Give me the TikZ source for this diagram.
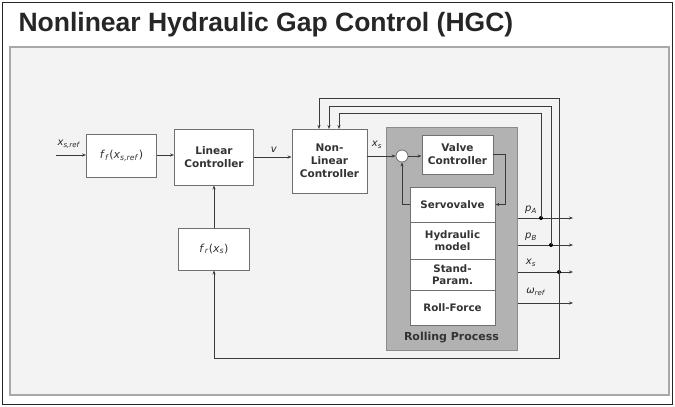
\documentclass[tikz,border=0pt]{standalone}
\usepackage{fontspec}
\setmainfont{DejaVu Sans}
\newfontfamily\titlefont{Liberation Sans}
\usetikzlibrary{arrows.meta,positioning,calc}
\definecolor{panel}{HTML}{F3F3F3}
\definecolor{panelborder}{HTML}{A8A8A8}
\definecolor{rpgray}{HTML}{B2B2B2}
\definecolor{rpborder}{HTML}{8C8C8C}
\definecolor{boxborder}{HTML}{707070}
\definecolor{wire}{HTML}{3A3A3A}
\tikzset{
  blockbox/.style={draw=boxborder, fill=white, line width=0.9pt, align=center, inner sep=1pt,
    font=\fontsize{10.5}{13}\selectfont\bfseries, text=black!80},
  stackbox/.style={draw=boxborder, fill=white, line width=0.8pt, align=center, inner sep=1pt,
    minimum width=85pt, font=\fontsize{10.3}{12}\selectfont\bfseries, text=black!80},
  wirearrow/.style={draw=wire, line width=0.7pt, -{Stealth[length=4pt,width=3pt]}},
  sig/.style={font=\fontsize{10}{11}\selectfont, text=black!85},
  dot/.style={circle, fill=black, inner sep=0pt, minimum size=4pt}
}
\begin{document}
\begin{tikzpicture}[x=1pt,y=-1pt]
\useasboundingbox (0,0) rectangle (675,407);
\fill[white] (0,0) rectangle (675,407);
\draw[black!85, line width=1.3pt] (2.5,2.5) rectangle (672.5,404.5);
\draw[panelborder, fill=panel, line width=1.3pt] (10,47) rectangle (669,395);
\node[anchor=west, font=\titlefont\fontsize{26.5}{29}\selectfont\bfseries, text=black!85] (title) at (15,25) {Nonlinear Hydraulic Gap Control (HGC)};

% rolling process
\node[draw=rpborder, fill=rpgray, line width=1pt, minimum width=131pt, minimum height=223pt, inner sep=0pt] (rp) at (451.5,238.5) {};
\node[font=\fontsize{11}{12}\selectfont\bfseries, text=black!80] (rplabel) at (451.5,338) {Rolling Process};

% blocks
\node[blockbox, minimum width=70pt, minimum height=43pt, font=\fontsize{11}{12}\selectfont] (ff) at (121.5,155.5) {\textit{f}\textsubscript{\textit{f}}(\textit{x}\textsubscript{\textit{s,ref}})};
\node[blockbox, minimum width=79pt, minimum height=56pt] (lin) at (214,157) {Linear\\Controller};
\node[blockbox, minimum width=71pt, minimum height=42pt, font=\fontsize{11}{12}\selectfont] (fr) at (214,249) {\textit{f}\textsubscript{\textit{r}}(\textit{x}\textsubscript{\textit{s}})};
\node[blockbox, minimum width=75pt, minimum height=64pt] (nl) at (329.5,161) {Non-\\Linear\\Controller};
\node[blockbox, minimum width=71pt, minimum height=39pt] (vc) at (457.5,154.5) {Valve\\Controller};
\node[circle, draw=boxborder, fill=white, line width=0.8pt, minimum size=12pt, inner sep=0pt] (sum) at (402,156) {};

\node[stackbox, minimum height=35pt] (sv) at (452.5,204.5) {Servovalve};
\node[stackbox, minimum height=37pt] (hm) at (452.5,240.5) {Hydraulic\\model};
\node[stackbox, minimum height=31pt] (sp) at (452.5,274.5) {Stand-\\Param.};
\node[stackbox, minimum height=35pt] (rf) at (452.5,307.5) {Roll-Force};

% input
\coordinate (in) at (56,155);
\node[sig] (xref) at (69,144) {\textit{x}\textsubscript{\textit{s,ref}}};
\draw[wirearrow] (in) -- (ff.west |- in);
\draw[wirearrow] (ff.east |- in) -- (lin.west |- in);
\draw[wirearrow] (lin.east |- 0,157) -- (nl.west |- 0,157);
\node[sig] (vlab) at (274,150) {\textit{v}};
\draw[wirearrow] (nl.east |- sum) -- (sum.west);
\node[sig] (xlab) at (377,145) {\textit{x}\textsubscript{\textit{s}}};
\draw[wirearrow] (sum.east) -- (vc.west |- sum);
\draw[wirearrow] (vc.east) -- (505,154.5) -- (505,204.5) -- (sv.east);
\draw[wirearrow] (sv.west) -- (sum.south |- sv.west) -- (sum.south);

% outputs
\coordinate (oA) at (573,218);
\coordinate (oB) at (573,245);
\coordinate (oX) at (573,272);
\coordinate (oW) at (573,303);
\draw[wirearrow] (rp.east |- oA) -- (oA);
\draw[wirearrow] (rp.east |- oB) -- (oB);
\draw[wirearrow] (rp.east |- oX) -- (oX);
\draw[wirearrow] (rp.east |- oW) -- (oW);
\node[sig] (pA) at (531,210) {\textit{p}\textsubscript{\textit{A}}};
\node[sig] (pB) at (531,237) {\textit{p}\textsubscript{\textit{B}}};
\node[sig] (xs) at (531,263) {\textit{x}\textsubscript{\textit{s}}};
\node[sig] (wr) at (536,292) {\textit{ω}\textsubscript{\textit{ref}}};

\node[dot] (dA) at (541,218) {};
\node[dot] (dB) at (551,245) {};
\node[dot] (dX) at (559,272) {};

\draw[wirearrow] (dA.center) -- (541,113) -- (339,113) -- (339,129);
\draw[wirearrow] (dB.center) -- (551,106) -- (329,106) -- (329,129);
\draw[wirearrow] (dX.center) -- (559,98) -- (319,98) -- (319,129);

% feedback
\draw[wirearrow] (dX.center) -- (559,358) -- (214,358) -- (fr.south);
\draw[wirearrow] (fr.north) -- (lin.south);
\end{tikzpicture}
\end{document}
